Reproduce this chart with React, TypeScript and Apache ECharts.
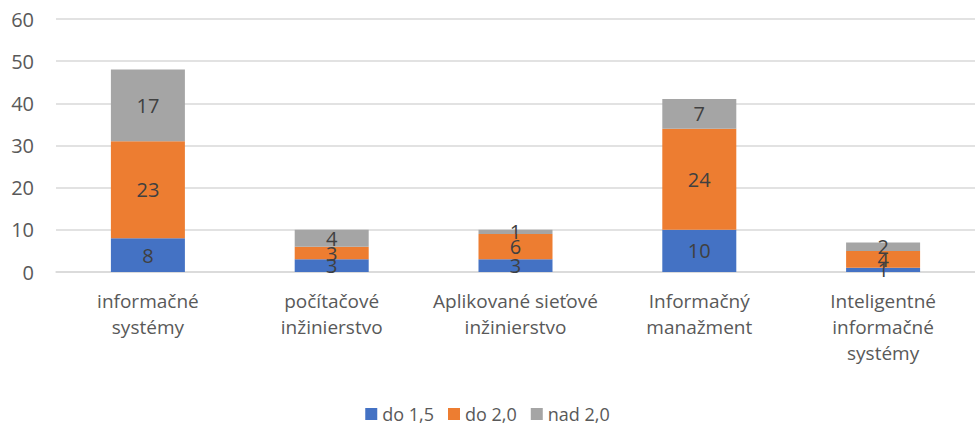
import React, { useEffect, useRef } from "react";
import * as echarts from "echarts";

const categories = [
  "informačné\nsystémy",
  "počítačové\ninžinierstvo",
  "Aplikované sieťové\ninžinierstvo",
  "Informačný\nmanažment",
  "Inteligentné\ninformačné\nsystémy",
];
const do15 = [8, 3, 3, 10, 1];
const do20 = [23, 3, 6, 24, 4];
const nad20 = [17, 4, 1, 7, 2];
const seriesNames = ["do 1,5", "do 2,0", "nad 2,0"];
const colors = ["#4472C4", "#ED7D31", "#A5A5A5"];

const FONT = "'Open Sans', 'Liberation Sans', sans-serif";

export default function App() {
  const ref = useRef<HTMLDivElement>(null);
  useEffect(() => {
    document.body.style.margin = "0";
    if (!ref.current) return;
    const chart = echarts.init(ref.current, undefined, { renderer: "svg" });
    const mk = (name: string, data: number[], color: string) => ({
      name,
      type: "bar",
      stack: "total",
      data,
      barWidth: 74,
      itemStyle: { color },
      label: {
        show: true,
        position: "inside",
        color: "#404040",
        fontSize: 20,
        fontFamily: FONT,
      },
    });
    chart.setOption({
      animation: false,
      textStyle: { fontFamily: FONT },
      grid: { left: 56, width: 926, top: 19, bottom: 157, containLabel: false },
      legend: {
        top: 400,
        left: "center",
        itemWidth: 12,
        itemHeight: 12,
        itemGap: 14,
        icon: "rect",
        textStyle: { color: "#595959", fontSize: 18, fontFamily: FONT },
        data: seriesNames,
      },
      xAxis: {
        type: "category",
        data: categories,
        axisTick: { show: false },
        axisLine: { lineStyle: { color: "#D9D9D9", width: 1.5 } },
        axisLabel: {
          color: "#595959",
          fontSize: 19,
          lineHeight: 26,
          margin: 16,
          interval: 0,
          fontFamily: FONT,
        },
      },
      yAxis: {
        type: "value",
        min: 0,
        max: 60,
        interval: 10,
        axisLine: { show: false },
        axisTick: { show: false },
        splitLine: { lineStyle: { color: "#D9D9D9", width: 1.5 } },
        axisLabel: { color: "#595959", fontSize: 20, margin: 22, fontFamily: FONT },
      },
      series: [
        mk(seriesNames[0], do15, colors[0]),
        mk(seriesNames[1], do20, colors[1]),
        mk(seriesNames[2], nad20, colors[2]),
      ],
    });
    return () => chart.dispose();
  }, []);
  return <div ref={ref} style={{ width: 975, height: 429 }} />;
}
